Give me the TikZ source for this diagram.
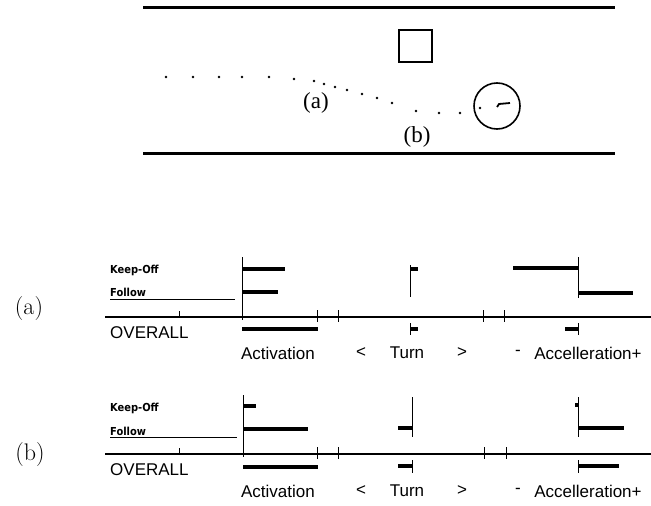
\documentclass[tikz,border=0pt]{standalone}
\usepackage{fontspec}
\setsansfont{Liberation Sans}
\newfontfamily\smallbold{DejaVu Sans Condensed}
\newfontfamily\roadfont{Liberation Serif}
\begin{document}
\begin{tikzpicture}[x=1pt,y=-1pt,
  road/.style={line width=3pt},
  bar/.style={line width=3.2pt},
  thin/.style={line width=1pt},
  axis/.style={line width=1.5pt},
  lab/.style={font=\fontsize{17}{19}\selectfont\sffamily, inner sep=0pt},
  rowlab/.style={font=\smallbold\bfseries\fontsize{11}{12}\selectfont, inner sep=0pt, anchor=west},
  case/.style={font=\fontsize{24}{26}\selectfont, inner sep=0pt},
  roadlab/.style={font=\roadfont\fontsize{23}{25}\selectfont, inner sep=0pt}]
\useasboundingbox (0,0) rectangle (651,506);
\fill[white] (0,0) rectangle (651,506);
% road
\draw[road] (143,7) -- (615,7);
\draw[road] (143,153) -- (615,153);
\draw[line width=2pt] (399,30) rectangle (432,62);
\draw[line width=1.6pt] (497,106) circle (23);
\draw[line width=1.8pt] (497,107) -- (499,104) -- (510,103);
\fill (480,108) circle (1.4);
\foreach \x/\y in {166/77,193/77,219/77,242/77,269/77,294/79,314/81,324/84,335/87,347/90,362/94,377/98,392/103,416/111,439/113,460/113}
  \fill (\x,\y) circle (1.4);
\node[roadlab] (ra) at (316,103) {(a)};
\node[roadlab] (rb) at (417,137) {(b)};
% panel a
\node[case] (pa) at (29,309) {(a)};
\node[rowlab] (ka) at (110,270) {Keep-Off};
\node[rowlab] (fa) at (110,292) {Follow};
\draw[thin] (110,299) -- (235,299);
\draw[axis] (105,317) -- (651,317);
\draw[thin] (242,257) -- (242,320);
\draw[thin] (179,311) -- (179,317);
\draw[thin] (317,310) -- (317,322);
\draw[thin] (338,310) -- (338,322);
\draw[thin] (483,310) -- (483,322);
\draw[thin] (504,310) -- (504,322);
\draw[bar] (242,269) -- (285,269);
\draw[bar] (242,292) -- (278,292);
\draw[bar] (242,329) -- (318,329);
\draw[thin] (410,265) -- (410,297);
\draw[bar] (410,269) -- (418,269);
\draw[thin] (410,323) -- (410,335);
\draw[bar] (410,329) -- (418,329);
\draw[bar] (513,268) -- (578,268);
\draw[thin] (578,257) -- (578,298);
\draw[bar] (578,293) -- (633,293);
\draw[thin] (578,323) -- (578,335);
\draw[bar] (565,329) -- (578,329);
\node[lab, anchor=west] (oa) at (110,333) {OVERALL};
\node[lab] (aa) at (278,353) {Activation};
\node[lab] (la) at (361,353) {<};
\node[lab] (ta) at (407,353) {Turn};
\node[lab] (ga) at (462,353) {>};
\node[lab] (ma) at (518,353) {-};
\node[lab] (xa) at (588,353) {Accelleration+};
% panel b
\node[case] (pb) at (30,455) {(b)};
\node[rowlab] (kb) at (110,408) {Keep-Off};
\node[rowlab] (fb) at (110,431) {Follow};
\draw[thin] (110,437) -- (237,437);
\draw[axis] (105,454) -- (651,454);
\draw[thin] (243,395) -- (243,457);
\draw[thin] (179,448) -- (179,454);
\draw[thin] (317,447) -- (317,459);
\draw[thin] (338,447) -- (338,459);
\draw[thin] (484,447) -- (484,459);
\draw[thin] (506,447) -- (506,459);
\draw[bar] (243,406) -- (256,406);
\draw[bar] (243,429) -- (308,429);
\draw[bar] (243,467) -- (318,467);
\draw[thin] (412,397) -- (412,437);
\draw[bar] (398,428) -- (412,428);
\draw[thin] (412,460) -- (412,473);
\draw[bar] (398,466) -- (412,466);
\draw[thin] (578,397) -- (578,437);
\draw[bar] (575,405) -- (578,405);
\draw[bar] (578,428) -- (624,428);
\draw[thin] (578,460) -- (578,473);
\draw[bar] (578,466) -- (619,466);
\node[lab, anchor=west] (ob) at (110,470) {OVERALL};
\node[lab] (ab) at (278,491) {Activation};
\node[lab] (lb) at (361,491) {<};
\node[lab] (tb) at (407,491) {Turn};
\node[lab] (gb) at (462,491) {>};
\node[lab] (mb) at (518,491) {-};
\node[lab] (xb) at (588,491) {Accelleration+};
\end{tikzpicture}
\end{document}
